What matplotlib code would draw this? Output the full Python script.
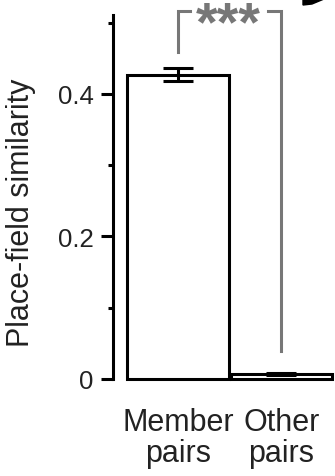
import numpy as np
import matplotlib.pyplot as plt
import matplotlib.transforms as mtransforms
from matplotlib.patches import Polygon

plt.rcParams['font.family'] = ['Liberation Sans', 'DejaVu Sans']

# data
groups = ['Member\npairs', 'Other\npairs']
similarity = [0.427, 0.007]
sem = [0.009, 0.002]
sig_label = '***'

fig = plt.figure(figsize=(3.35, 4.77), dpi=100)
ax = fig.add_axes([113/335, 97/477, 222/335, 363.6/477])

x = np.arange(len(groups))
ax.bar(x, similarity, width=0.985, color='white', edgecolor='black',
       linewidth=2.2, clip_on=False, zorder=2)
ax.errorbar(x, similarity, yerr=sem, fmt='none', ecolor='black',
            elinewidth=2.2, capsize=11, capthick=2.2, zorder=3)

ax.set_xlim(-0.628, 1.517)
ax.set_ylim(0, 0.51)
ax.set_yticks([0, 0.2, 0.4])
ax.set_yticklabels(['0', '0.2', '0.4'])
ax.set_yticks([0.1, 0.3, 0.5], minor=True)
ax.set_xticks(x)
ax.set_xticklabels(groups, linespacing=1.05)
# first label sits a little left of its bar in the original
shift = mtransforms.ScaledTranslation(-6/100, 0, fig.dpi_scale_trans)
lab = ax.get_xticklabels()[0]
lab.set_transform(lab.get_transform() + shift)

for s in ['top', 'right', 'bottom']:
    ax.spines[s].set_visible(False)
ax.spines['left'].set_linewidth(2.2)
ax.tick_params(axis='y', which='major', length=9, width=2.2, pad=5,
               labelsize=18.5, labelcolor='#222222')
ax.tick_params(axis='y', which='minor', length=3.5, width=2.2)
ax.tick_params(axis='x', length=0, pad=20, labelsize=22, labelcolor='#222222')
ax.set_ylabel('Place-field similarity', fontsize=22, color='#222222')
ax.yaxis.set_label_coords(-0.345, 0.46)

# significance bracket
gray = '#777777'
ax.plot([0, 0, 0.12], [0.459, 0.516, 0.516], color=gray, lw=2.2,
        clip_on=False, solid_joinstyle='miter')
ax.plot([0.87, 1.0, 1.0], [0.516, 0.516, 0.039], color=gray, lw=2.2,
        clip_on=False, solid_joinstyle='miter')
ax.text(0.49, 0.477, sig_label, color=gray, fontsize=40, fontweight='bold',
        ha='center', va='baseline', clip_on=False)

# arrow head from the neighbouring panel, cut by the figure edge
tri = Polygon([[303/335, 1.0], [324/335, 1.0], [312/335, 1 - 5/477],
               [303/335, 1 - 6/477]], closed=True, color='black',
              transform=fig.transFigure)
fig.patches.append(tri)

fig.savefig('out.png', dpi=100)
